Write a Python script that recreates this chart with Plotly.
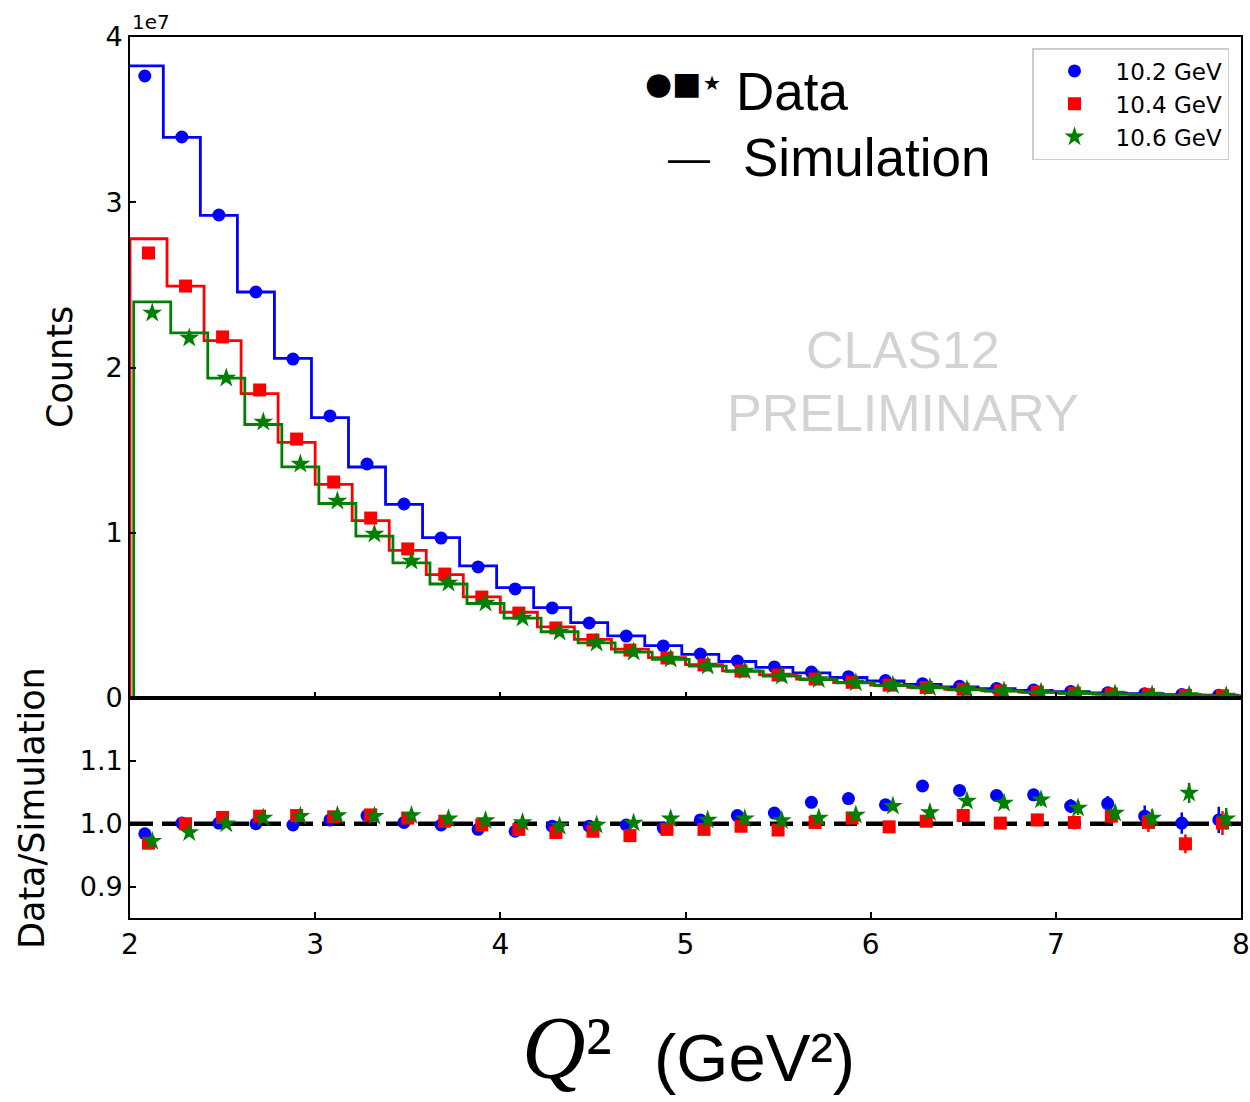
import plotly.graph_objects as go
from plotly.subplots import make_subplots
import numpy as np

# ---------------- data ----------------
q2_bin_centers = [2.1, 2.3, 2.5, 2.7, 2.9, 3.1, 3.3, 3.5, 3.7, 3.9,
                  4.1, 4.3, 4.5, 4.7, 4.9, 5.1, 5.3, 5.5, 5.7, 5.9,
                  6.1, 6.3, 6.5, 6.7, 6.9, 7.1, 7.3, 7.5, 7.7, 7.9]
bin_width = 0.2

series_names = ["10.2 GeV", "10.4 GeV", "10.6 GeV"]

# counts in units of 1e7
data_102 = [3.764, 3.395, 2.923, 2.457, 2.051, 1.707, 1.416, 1.174, 0.968, 0.793,
            0.660, 0.545, 0.454, 0.375, 0.315, 0.266, 0.224, 0.188, 0.157, 0.129,
            0.106, 0.087, 0.071, 0.058, 0.048, 0.039, 0.032, 0.026, 0.021, 0.017]
data_104 = [2.693, 2.493, 2.185, 1.864, 1.567, 1.307, 1.089, 0.902, 0.750, 0.611,
            0.514, 0.424, 0.351, 0.290, 0.242, 0.200, 0.163, 0.139, 0.115, 0.095,
            0.078, 0.064, 0.053, 0.043, 0.036, 0.029, 0.024, 0.020, 0.016, 0.013]
data_106 = [2.330, 2.178, 1.936, 1.670, 1.416, 1.192, 0.992, 0.829, 0.696, 0.575,
            0.484, 0.399, 0.333, 0.278, 0.236, 0.194, 0.163, 0.133, 0.112, 0.093,
            0.077, 0.063, 0.052, 0.043, 0.035, 0.029, 0.024, 0.019, 0.016, 0.013]

sim_102 = [3.825, 3.392, 2.920, 2.457, 2.055, 1.697, 1.398, 1.172, 0.970, 0.800,
           0.668, 0.547, 0.456, 0.376, 0.317, 0.264, 0.221, 0.185, 0.152, 0.124,
           0.103, 0.082, 0.067, 0.056, 0.046, 0.038, 0.031, 0.026, 0.021, 0.017]
sim_104 = [2.779, 2.493, 2.163, 1.842, 1.547, 1.293, 1.074, 0.894, 0.747, 0.612,
           0.519, 0.430, 0.355, 0.296, 0.244, 0.202, 0.164, 0.140, 0.115, 0.094,
           0.078, 0.064, 0.052, 0.043, 0.036, 0.029, 0.024, 0.020, 0.017, 0.013]
sim_106 = [2.397, 2.209, 1.936, 1.655, 1.399, 1.177, 0.980, 0.818, 0.690, 0.572,
           0.483, 0.401, 0.334, 0.278, 0.234, 0.193, 0.162, 0.132, 0.111, 0.092,
           0.075, 0.062, 0.050, 0.042, 0.034, 0.028, 0.024, 0.019, 0.015, 0.013]

ratio_102 = [0.984, 1.001, 1.001, 1.000, 0.998, 1.006, 1.013, 1.002, 0.998, 0.991,
             0.988, 0.996, 0.996, 0.998, 0.993, 1.006, 1.013, 1.017, 1.034, 1.040,
             1.030, 1.060, 1.053, 1.045, 1.046, 1.028, 1.032, 1.012, 1.001, 1.006]
ratio_104 = [0.969, 1.000, 1.010, 1.012, 1.013, 1.011, 1.014, 1.009, 1.004, 0.998,
             0.991, 0.986, 0.988, 0.981, 0.991, 0.991, 0.996, 0.990, 1.002, 1.009,
             0.995, 1.004, 1.013, 1.001, 1.006, 1.002, 1.012, 1.002, 0.968, 1.001]
ratio_106 = [0.972, 0.986, 1.000, 1.009, 1.012, 1.013, 1.012, 1.013, 1.008, 1.005,
             1.002, 0.996, 0.998, 1.001, 1.008, 1.006, 1.008, 1.005, 1.009, 1.014,
             1.028, 1.018, 1.036, 1.033, 1.038, 1.025, 1.017, 1.009, 1.049, 1.008]

ratio_err_102 = [0.001, 0.001, 0.001, 0.001, 0.001, 0.002, 0.002, 0.002, 0.002, 0.002,
                 0.002, 0.003, 0.003, 0.003, 0.004, 0.004, 0.004, 0.005, 0.005, 0.006,
                 0.006, 0.007, 0.008, 0.009, 0.009, 0.011, 0.012, 0.017, 0.017, 0.021]
ratio_err_104 = [0.001, 0.001, 0.001, 0.001, 0.001, 0.002, 0.002, 0.002, 0.002, 0.002,
                 0.002, 0.003, 0.003, 0.003, 0.004, 0.004, 0.004, 0.005, 0.005, 0.006,
                 0.006, 0.007, 0.008, 0.009, 0.010, 0.011, 0.012, 0.015, 0.015, 0.019]
ratio_err_106 = [0.001, 0.001, 0.001, 0.001, 0.001, 0.002, 0.002, 0.002, 0.002, 0.002,
                 0.002, 0.003, 0.003, 0.003, 0.004, 0.004, 0.004, 0.005, 0.005, 0.006,
                 0.006, 0.007, 0.008, 0.009, 0.010, 0.011, 0.012, 0.014, 0.016, 0.017]

count_ticks = [0, 1, 2, 3, 4]
ratio_ticks = [0.9, 1.0, 1.1]
q2_ticks = [2, 3, 4, 5, 6, 7, 8]

# ---------------- style ----------------
colors = ["#0000ff", "#ff0000", "#008000"]
symbols = ["circle", "square", "star"]
msizes = [13, 13, 15]
dodge = [-0.02, 0.0, 0.02]

datas = [data_102, data_104, data_106]
sims = [sim_102, sim_104, sim_106]
ratios = [ratio_102, ratio_104, ratio_106]
rerrs = [ratio_err_102, ratio_err_104, ratio_err_106]

fig = make_subplots(rows=2, cols=1, shared_xaxes=True, vertical_spacing=0,
                    row_heights=[0.7503, 0.2497])

centers = np.array(q2_bin_centers)

for i in range(3):
    xc = centers + dodge[i]
    edges = np.concatenate([xc - bin_width / 2, [xc[-1] + bin_width / 2]])
    sx = np.concatenate([[edges[0]], edges[:-1], [edges[-1], edges[-1]]])
    sy = np.concatenate([[0], sims[i], [sims[i][-1], 0]])
    fig.add_trace(go.Scatter(x=sx, y=sy, mode="lines", line=dict(color=colors[i], width=2.8, shape="hv"),
                             showlegend=False, hoverinfo="skip"), row=1, col=1)
    fig.add_trace(go.Scatter(x=xc, y=datas[i], mode="markers", name=series_names[i],
                             marker=dict(color=colors[i], symbol=symbols[i], size=msizes[i],
                                         line=dict(width=0))),
                  row=1, col=1)

# reference line at ratio 1
fig.add_trace(go.Scatter(x=[q2_ticks[0], q2_ticks[-1]], y=[1.0, 1.0], mode="lines",
                         line=dict(color="black", width=4.5, dash="23px,9px"),
                         showlegend=False, hoverinfo="skip"), row=2, col=1)

for i in range(3):
    xc = centers + dodge[i]
    fig.add_trace(go.Scatter(x=xc, y=ratios[i], mode="markers", showlegend=False,
                             marker=dict(color=colors[i], symbol=symbols[i], size=msizes[i],
                                         line=dict(width=0)),
                             error_y=dict(type="data", array=rerrs[i], color=colors[i],
                                          thickness=2.5, width=0)),
                  row=2, col=1)

axis_common = dict(showline=True, linecolor="black", linewidth=1.8, mirror=True,
                   ticks="inside", ticklen=6, tickwidth=1.5, tickcolor="black",
                   showgrid=False, zeroline=False, automargin=False,
                   tickfont=dict(family="DejaVu Sans", size=27, color="black"))

fig.update_xaxes(**axis_common)
fig.update_xaxes(range=[2, 8], tickvals=q2_ticks, row=1, col=1, showticklabels=False)
fig.update_xaxes(range=[2, 8], tickvals=q2_ticks, ticktext=[str(t) for t in q2_ticks],
                 row=2, col=1, tickfont=dict(family="DejaVu Sans", size=28, color="black"))
fig.update_yaxes(**axis_common)
fig.update_yaxes(range=[0, 4], tickvals=count_ticks, ticktext=[str(t) for t in count_ticks], row=1, col=1)
fig.update_yaxes(range=[0.85, 1.2], tickvals=ratio_ticks, ticktext=["%.1f" % t for t in ratio_ticks],
                 row=2, col=1)


def px(x):
    return (x - 130) / 1111.0


def py(y):
    return (918 - y) / 881.0


ann = []
ann.append(dict(text="1e7", x=px(130), y=py(22), xanchor="left", yanchor="middle",
                font=dict(family="DejaVu Sans", size=20, color="black")))
ann.append(dict(text="Counts", x=px(60), y=py(367), textangle=-90, xanchor="center", yanchor="middle",
                font=dict(family="DejaVu Sans", size=35, color="black")))
ann.append(dict(text="Data/Simulation", x=px(32), y=py(808), textangle=-90, xanchor="center",
                yanchor="middle", font=dict(family="DejaVu Sans", size=35, color="black")))
ann.append(dict(text="●■", x=px(643), y=py(83), xanchor="left", yanchor="middle",
                font=dict(family="DejaVu Sans", size=31, color="black")))
ann.append(dict(text="★", x=px(701), y=py(83), xanchor="left", yanchor="middle",
                font=dict(family="DejaVu Sans", size=20, color="black")))
ann.append(dict(text="Data", x=px(734), y=py(92), xanchor="left", yanchor="middle",
                font=dict(family="Liberation Sans", size=53, color="black")))
ann.append(dict(text="—", x=px(666), y=py(157), xanchor="left", yanchor="middle",
                font=dict(family="Liberation Sans", size=42, color="black")))
ann.append(dict(text="Simulation", x=px(741), y=py(157), xanchor="left", yanchor="middle",
                font=dict(family="Liberation Sans", size=53, color="black")))
ann.append(dict(text="CLAS12", x=px(903), y=py(350), xanchor="center", yanchor="middle",
                font=dict(family="Liberation Sans", size=52, color="#d3d3d3")))
ann.append(dict(text="PRELIMINARY", x=px(903), y=py(413), xanchor="center", yanchor="middle",
                font=dict(family="Liberation Sans", size=52, color="#d3d3d3")))
ann.append(dict(text="<i>Q</i>²", x=px(614), y=py(1047), xanchor="right", yanchor="middle",
                font=dict(family="Liberation Serif", size=88, color="black")))
ann.append(dict(text="(GeV²)", x=px(652), y=py(1057), xanchor="left", yanchor="middle",
                font=dict(family="Liberation Sans", size=67, color="black")))
for a in ann:
    a.update(xref="paper", yref="paper", showarrow=False)

fig.update_layout(
    width=1250, height=1102,
    margin=dict(l=130, r=9, t=37, b=184),
    paper_bgcolor="white", plot_bgcolor="white",
    annotations=ann,
    legend=dict(x=px(1229), y=py(48), xanchor="right", yanchor="top",
                bgcolor="white", bordercolor="#cccccc", borderwidth=1.5,
                font=dict(family="DejaVu Sans", size=23, color="black"),
                itemsizing="trace", itemwidth=72, tracegroupgap=0),
    showlegend=True,
)

fig.write_html("out.html")
